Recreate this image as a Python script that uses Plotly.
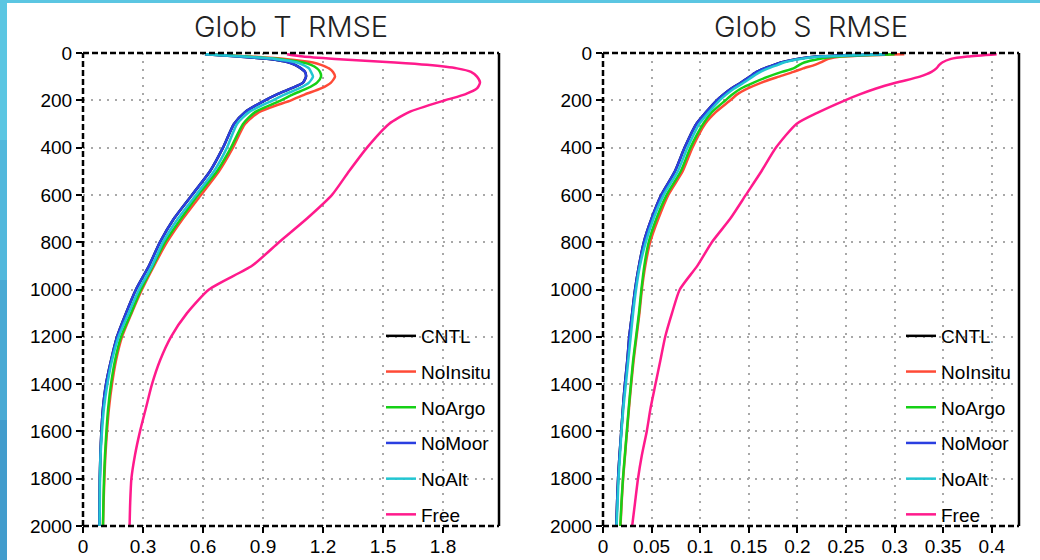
import plotly.graph_objects as go

# ---------------- data ----------------
depth = [5, 15, 25, 40, 50, 65, 80, 100, 125, 150, 175, 200, 250, 300, 400, 500,
         600, 700, 800, 900, 1000, 1100, 1200, 1300, 1400, 1500, 1600, 1700, 1800, 1900, 2000]

experiments = ["CNTL", "NoInsitu", "NoArgo", "NoMoor", "NoAlt", "Free"]
colors = ["#000000", "#ff4a36", "#16d016", "#2a3fe0", "#22c6d2", "#ff1a8c"]

# Temperature RMSE
t_cntl = [0.61, 0.78, 0.93, 1.03, 1.06, 1.09, 1.11, 1.115, 1.10, 1.04, 0.97, 0.91, 0.81, 0.755, 0.70, 0.635,
          0.545, 0.455, 0.385, 0.33, 0.265, 0.215, 0.17, 0.14, 0.115, 0.10, 0.092, 0.087, 0.084, 0.083, 0.082]
t_noinsitu = [0.62, 0.84, 1.01, 1.15, 1.19, 1.23, 1.25, 1.26, 1.24, 1.19, 1.11, 1.04, 0.88, 0.81, 0.75, 0.68,
              0.59, 0.50, 0.42, 0.355, 0.295, 0.243, 0.195, 0.165, 0.145, 0.13, 0.12, 0.112, 0.107, 0.103, 0.10]
t_noargo = [0.62, 0.82, 0.98, 1.10, 1.14, 1.17, 1.185, 1.19, 1.17, 1.12, 1.05, 0.99, 0.86, 0.80, 0.74, 0.67,
            0.575, 0.49, 0.41, 0.35, 0.29, 0.24, 0.19, 0.16, 0.14, 0.126, 0.117, 0.11, 0.105, 0.102, 0.10]
t_nomoor = [0.61, 0.78, 0.93, 1.03, 1.06, 1.09, 1.11, 1.115, 1.10, 1.04, 0.97, 0.91, 0.81, 0.755, 0.70, 0.635,
            0.545, 0.455, 0.385, 0.33, 0.265, 0.215, 0.17, 0.14, 0.115, 0.10, 0.092, 0.087, 0.084, 0.083, 0.082]
t_noalt = [0.61, 0.80, 0.96, 1.07, 1.10, 1.13, 1.14, 1.15, 1.13, 1.08, 1.01, 0.95, 0.83, 0.77, 0.72, 0.655,
           0.565, 0.475, 0.40, 0.345, 0.28, 0.228, 0.178, 0.145, 0.122, 0.105, 0.095, 0.088, 0.085, 0.084, 0.083]
t_free = [1.02, 1.10, 1.26, 1.56, 1.72, 1.87, 1.94, 1.97, 1.985, 1.97, 1.91, 1.81, 1.63, 1.53, 1.42, 1.33,
          1.245, 1.12, 0.98, 0.845, 0.63, 0.52, 0.44, 0.385, 0.345, 0.315, 0.285, 0.26, 0.242, 0.236, 0.233]

# Salinity RMSE
s_cntl = [0.29, 0.22, 0.20, 0.183, 0.176, 0.166, 0.158, 0.151, 0.142, 0.132, 0.124, 0.117, 0.106, 0.096, 0.084, 0.074,
          0.060, 0.050, 0.042, 0.037, 0.033, 0.030, 0.027, 0.025, 0.0225, 0.0205, 0.0188, 0.017, 0.0155, 0.0145, 0.0137]
s_noinsitu = [0.31, 0.245, 0.232, 0.224, 0.218, 0.206, 0.196, 0.181, 0.163, 0.149, 0.138, 0.131, 0.116, 0.105, 0.092, 0.082,
              0.0672, 0.057, 0.0485, 0.0435, 0.040, 0.0375, 0.0345, 0.0315, 0.029, 0.0268, 0.0247, 0.0227, 0.0207, 0.0192, 0.018]
s_noargo = [0.30, 0.24, 0.222, 0.207, 0.202, 0.196, 0.184, 0.170, 0.155, 0.142, 0.133, 0.126, 0.112, 0.103, 0.090, 0.080,
            0.0655, 0.055, 0.047, 0.0425, 0.0395, 0.037, 0.034, 0.031, 0.0287, 0.0265, 0.0245, 0.0225, 0.0205, 0.019, 0.0178]
s_nomoor = [0.29, 0.22, 0.20, 0.183, 0.176, 0.166, 0.158, 0.151, 0.142, 0.132, 0.124, 0.117, 0.106, 0.096, 0.084, 0.074,
            0.060, 0.050, 0.042, 0.037, 0.033, 0.030, 0.027, 0.025, 0.0225, 0.0205, 0.0188, 0.017, 0.0155, 0.0145, 0.0137]
s_noalt = [0.29, 0.225, 0.203, 0.186, 0.180, 0.170, 0.162, 0.154, 0.145, 0.135, 0.127, 0.120, 0.109, 0.099, 0.087, 0.077,
           0.0625, 0.052, 0.044, 0.038, 0.034, 0.031, 0.0285, 0.026, 0.0235, 0.021, 0.019, 0.0175, 0.016, 0.015, 0.014]
s_free = [0.405, 0.375, 0.358, 0.349, 0.346, 0.343, 0.338, 0.326, 0.302, 0.281, 0.264, 0.249, 0.222, 0.199, 0.178, 0.163,
          0.147, 0.131, 0.112, 0.097, 0.079, 0.071, 0.064, 0.059, 0.054, 0.049, 0.045, 0.040, 0.036, 0.033, 0.030]

t_series = [t_cntl, t_noinsitu, t_noargo, t_nomoor, t_noalt, t_free]
s_series = [s_cntl, s_noinsitu, s_noargo, s_nomoor, s_noalt, s_free]

t_ticks = [0, 0.3, 0.6, 0.9, 1.2, 1.5, 1.8]
t_ticktext = ["0", "0.3", "0.6", "0.9", "1.2", "1.5", "1.8"]
s_ticks = [0, 0.05, 0.1, 0.15, 0.2, 0.25, 0.3, 0.35, 0.4]
s_ticktext = ["0", "0.05", "0.1", "0.15", "0.2", "0.25", "0.3", "0.35", "0.4"]
depth_ticks = [0, 200, 400, 600, 800, 1000, 1200, 1400, 1600, 1800, 2000]
titles = ["Glob\u00a0\u00a0T\u00a0\u00a0RMSE", "Glob\u00a0\u00a0S\u00a0\u00a0RMSE"]

# ---------------- figure ----------------
W, H = 1040, 560
TICKFONT = dict(family="Liberation Sans", size=19, color="black")

fig = go.Figure()
for i, name in enumerate(experiments):
    fig.add_trace(go.Scatter(x=t_series[i], y=depth, mode="lines", name=name,
                             line=dict(color=colors[i], width=2.5, shape="spline", smoothing=0.6),
                             xaxis="x", yaxis="y", legend="legend", legendgroup="t" + name))
for i, name in enumerate(experiments):
    fig.add_trace(go.Scatter(x=s_series[i], y=depth, mode="lines", name=name,
                             line=dict(color=colors[i], width=2.5, shape="spline", smoothing=0.6),
                             xaxis="x2", yaxis="y2", legend="legend2", legendgroup="s" + name))

ydom = [1 - 526 / H, 1 - 53 / H]
xdom1 = [83 / W, 499 / W]
xdom2 = [603 / W, 1019 / W]

common_axis = dict(showgrid=True, gridcolor="#a8a8a8", gridwidth=1.6, griddash="2px,6px",
                   zeroline=False, showline=False, ticks="outside", ticklen=6, tickwidth=2,
                   tickcolor="black", tickfont=TICKFONT, automargin=False)

legend_style = dict(font=dict(family="Liberation Sans", size=19, color="black"),
                    bgcolor="rgba(0,0,0,0)", borderwidth=0, traceorder="grouped",
                    tracegroupgap=8, itemwidth=30, xanchor="left", yanchor="top")

fig.update_layout(
    width=W, height=H, autosize=False,
    margin=dict(l=0, r=0, t=0, b=0, pad=0, autoexpand=False),
    paper_bgcolor="white", plot_bgcolor="white",
    showlegend=True,
    xaxis=dict(domain=xdom1, range=[0, 2.08], tickvals=t_ticks, ticktext=t_ticktext,
               anchor="y", ticklabelstandoff=-3, **common_axis),
    yaxis=dict(domain=ydom, range=[2000, 0], tickvals=depth_ticks, anchor="x", **common_axis),
    xaxis2=dict(domain=xdom2, range=[0, 0.428], tickvals=s_ticks, ticktext=s_ticktext,
                anchor="y2", ticklabelstandoff=-3, **common_axis),
    yaxis2=dict(domain=ydom, range=[2000, 0], tickvals=depth_ticks, anchor="x2", **common_axis),
    legend=dict(x=381 / W, y=1 - 317 / H, **legend_style),
    legend2=dict(x=901 / W, y=1 - 317 / H, **legend_style),
)

# plot frames: dashed top / left / bottom, solid right
for xr, yr in [("x domain", "y domain"), ("x2 domain", "y2 domain")]:
    for (x0, y0, x1, y1, dash) in [(0, 1, 1, 1, "6px,3px"), (0, 0, 0, 1, "6px,3px"),
                                   (0, 0, 1, 0, "6px,3px"), (1, 0, 1, 1, "solid")]:
        fig.add_shape(type="line", xref=xr, yref=yr, x0=x0, y0=y0, x1=x1, y1=y1,
                      line=dict(color="black", width=2.5, dash=dash), layer="above")

# decorative slide border (blue strips at left and top)
fig.add_shape(type="rect", xref="paper", yref="paper", x0=0, x1=1, y0=1 - 3 / H, y1=1,
              fillcolor="#5bc6e2", line_width=0, layer="below")
band_cols = ["#5bc6e2", "#52b8dc", "#4aaad4", "#429ccc"]
for k, c in enumerate(band_cols):
    fig.add_shape(type="rect", xref="paper", yref="paper", x0=0, x1=7 / W,
                  y0=1 - (k + 1) / len(band_cols), y1=1 - k / len(band_cols),
                  fillcolor=c, line_width=0, layer="below")

# panel titles
for dom, txt in zip([xdom1, xdom2], titles):
    fig.add_annotation(x=(dom[0] + dom[1]) / 2, y=1 - 26 / H, xref="paper", yref="paper",
                       text=txt, showarrow=False, xanchor="center", yanchor="middle",
                       font=dict(family="Inter", size=29, color="#222222", weight=300))

fig.write_html("out.html", config={"responsive": False, "displayModeBar": False},
               post_script="document.body.style.margin='0';document.body.style.overflow='hidden';")
